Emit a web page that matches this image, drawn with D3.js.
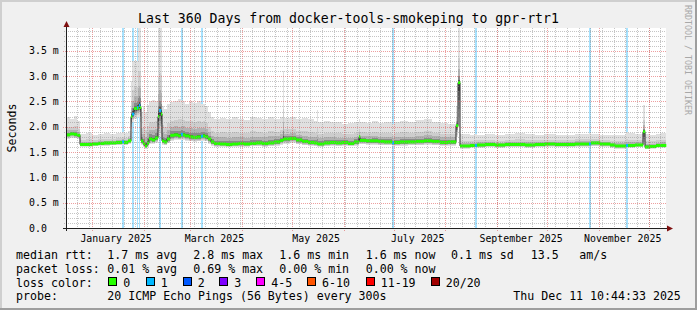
<!DOCTYPE html>
<html>
<head>
<meta charset="utf-8">
<script src="https://cdn.jsdelivr.net/npm/d3@7"></script>
<style>
  body { margin: 0; background: #f0f0f0; }
  svg { display: block; font-family: "DejaVu Sans Mono", monospace; }
  text { white-space: pre; }
</style>
</head>
<body>
<svg id="chart" width="697" height="310"></svg>
<script>
// ---- data ----
const startTime = new Date(Date.UTC(2024, 11, 16, 10, 44, 33));
const endTime = new Date(Date.UTC(2025, 11, 11, 10, 44, 33));
const spanDays = 360;

// start of each step, in days after startTime
const segDay = [
  0, 2.4, 4.8, 6.6, 8.4, 12, 15.6, 19.2, 22.8, 26.4,
  30, 33.6, 34.8, 37.2, 39, 39.6, 40.8, 42.6, 43.2, 43.8,
  44.4, 45, 46.2, 47.4, 48.6, 49.8, 51.6, 53.4, 55.2, 55.8,
  57.0, 57.6, 58.8, 60.6, 62.4, 64.8, 67.2, 69, 70.2, 71.4,
  73.8, 76.2, 78.6, 81, 82.2, 83.4, 85.2, 87, 88.8, 92.4,
  96, 99.6, 103.2, 106.8, 110.4, 114, 117.6, 121.2, 124.8, 128.4,
  130.2, 130.8, 134.4, 138, 141.6, 145.2, 148.8, 150.6, 151.2, 154.8,
  158.4, 162, 165.6, 169.2, 172.8, 175.8, 176.4, 180, 183.6, 187.2,
  190.8, 195.6, 196.8, 200.4, 205.2, 210, 214.8, 219.6, 224.4, 229.2,
  234, 235.2, 236.4, 242.4, 245.4, 246.6, 251.4, 257.4, 263.4, 269.4,
  275.4, 281.4, 287.4, 293.4, 299.4, 305.4, 313.8, 315, 320.4, 326.4,
  329.4, 336, 337.2, 341.4, 346.2, 347.4, 350.4, 354, 356.4
];
// median rtt (ms)
const medianMs = [
  1.84, 1.86, 1.85, 1.83, 1.65, 1.65, 1.66, 1.67, 1.68, 1.68,
  1.69, 1.70, 1.69, 1.72, 2.20, 2.25, 2.36, 2.38, 2.37, 2.42,
  2.38, 1.72, 1.67, 1.62, 1.68, 1.76, 1.74, 1.78, 2.20, 2.32,
  2.25, 1.72, 1.70, 1.76, 1.83, 1.84, 1.82, 1.85, 1.84, 1.82,
  1.80, 1.79, 1.80, 1.81, 1.82, 1.80, 1.76, 1.70, 1.67, 1.66,
  1.65, 1.66, 1.67, 1.66, 1.67, 1.68, 1.67, 1.68, 1.70, 1.73,
  1.75, 1.76, 1.77, 1.74, 1.71, 1.69, 1.68, 1.67, 1.66, 1.68,
  1.69, 1.68, 1.69, 1.67, 1.70, 1.80, 1.73, 1.72, 1.72, 1.71,
  1.70, 1.68, 1.69, 1.70, 1.70, 1.71, 1.72, 1.71, 1.69, 1.70,
  2.02, 2.87, 1.62, 1.63, 1.63, 1.64, 1.65, 1.64, 1.65, 1.65,
  1.64, 1.65, 1.66, 1.65, 1.65, 1.66, 1.66, 1.68, 1.66, 1.64,
  1.62, 1.63, 1.63, 1.64, 1.90, 1.60, 1.61, 1.63, 1.63
];
// highest ping of the step (ms)
const smokeHiMs = [
  2.20, 2.15, 2.22, 2.12, 1.86, 1.88, 1.84, 1.86, 1.87, 1.85,
  1.88, 1.90, 1.87, 1.92, 2.90, 3.30, 3.30, 3.30, 3.95, 3.95,
  3.95, 2.30, 2.40, 2.30, 2.43, 2.50, 2.53, 2.50, 3.95, 3.95,
  3.95, 2.40, 2.35, 2.45, 2.48, 2.50, 2.55, 2.52, 2.50, 2.45,
  2.50, 2.47, 2.50, 2.45, 2.45, 2.40, 2.30, 2.20, 2.15, 2.18,
  2.15, 2.20, 2.15, 2.13, 2.20, 2.18, 2.15, 2.20, 2.15, 2.20,
  3.10, 2.18, 2.20, 2.15, 2.17, 2.15, 2.12, 2.33, 2.10, 2.12,
  2.10, 2.10, 2.05, 2.08, 2.10, 2.15, 2.10, 2.08, 2.12, 2.08,
  2.10, 2.05, 2.10, 2.12, 2.10, 2.13, 2.15, 2.10, 2.08, 2.05,
  2.40, 3.95, 1.85, 1.84, 1.86, 1.84, 1.85, 1.83, 1.86, 1.88,
  1.85, 1.84, 1.85, 1.83, 1.84, 1.86, 1.88, 1.86, 1.84, 1.83,
  1.84, 1.90, 1.88, 1.86, 2.42, 1.85, 1.84, 1.86, 1.87
];
// lowest ping of the step (ms)
const smokeLoMs = [
  1.76, 1.78, 1.77, 1.76, 1.60, 1.60, 1.61, 1.62, 1.62, 1.63,
  1.63, 1.64, 1.63, 1.66, 1.95, 2.10, 2.15, 2.20, 2.20, 2.20,
  2.10, 1.64, 1.60, 1.57, 1.60, 1.66, 1.66, 1.68, 1.80, 1.80,
  1.75, 1.64, 1.63, 1.67, 1.72, 1.74, 1.73, 1.74, 1.74, 1.72,
  1.71, 1.70, 1.71, 1.72, 1.72, 1.71, 1.66, 1.62, 1.60, 1.60,
  1.59, 1.60, 1.60, 1.60, 1.61, 1.61, 1.60, 1.61, 1.62, 1.64,
  1.66, 1.66, 1.67, 1.65, 1.63, 1.62, 1.61, 1.60, 1.60, 1.61,
  1.62, 1.61, 1.62, 1.61, 1.62, 1.66, 1.65, 1.64, 1.64, 1.63,
  1.63, 1.62, 1.62, 1.62, 1.63, 1.63, 1.64, 1.63, 1.62, 1.62,
  1.80, 2.00, 1.57, 1.58, 1.58, 1.58, 1.59, 1.58, 1.59, 1.59,
  1.58, 1.59, 1.60, 1.59, 1.59, 1.60, 1.60, 1.61, 1.60, 1.58,
  1.57, 1.58, 1.58, 1.59, 1.65, 1.56, 1.57, 1.58, 1.58
];
// lost pings (of 20) in the step
const lostPings = [
  0, 0, 0, 0, 0, 0, 0, 0, 0, 0,
  0, 1, 0, 0, 0, 1, 0, 1, 0, 1,
  0, 0, 0, 0, 0, 0, 0, 0, 0, 1,
  0, 0, 0, 0, 0, 0, 0, 1, 0, 0,
  0, 0, 0, 1, 0, 0, 0, 0, 0, 0,
  0, 0, 0, 0, 0, 0, 0, 0, 0, 0,
  0, 0, 0, 0, 0, 0, 0, 0, 0, 0,
  0, 0, 0, 0, 0, 0, 0, 0, 0, 0,
  0, 1, 0, 0, 0, 0, 0, 0, 0, 0,
  0, 0, 0, 0, 1, 0, 0, 0, 0, 0,
  0, 0, 0, 0, 0, 0, 1, 0, 0, 0,
  0, 1, 0, 0, 0, 0, 0, 0, 0
];

const yTicks = [0, 0.5, 1.0, 1.5, 2.0, 2.5, 3.0, 3.5];
const yTickLabels = ["0.0", "0.5 m", "1.0 m", "1.5 m", "2.0 m", "2.5 m", "3.0 m", "3.5 m"];
const monthLabelDates = [
  new Date(Date.UTC(2025, 0, 1)), new Date(Date.UTC(2025, 2, 1)), new Date(Date.UTC(2025, 4, 1)),
  new Date(Date.UTC(2025, 6, 1)), new Date(Date.UTC(2025, 8, 1)), new Date(Date.UTC(2025, 10, 1))
];
const monthLabels = ["January 2025", "March 2025", "May 2025", "July 2025", "September 2025", "November 2025"];

const lossNames = ["0", "1", "2", "3", "4-5", "6-10", "11-19", "20/20"];
const lossColors = ["#26ff00", "#00b8ff", "#0059ff", "#7e00ff", "#ff00ff", "#ff5500", "#ff0000", "#a10000"];

const rttStats = ["1.7 ms avg", "2.8 ms max", "1.6 ms min", "1.6 ms now", "0.1 ms sd", "13.5", "am/s"];
const lossStats = ["0.01 % avg", "0.69 % max", "0.00 % min", "0.00 % now"];

// ---- layout ----
const W = 697, H = 310;
const x0 = 66, x1 = 666, yTop = 28, yBot = 228;
const svg = d3.select("#chart");

const x = d3.scaleUtc().domain([startTime, endTime]).range([x0, x1]);
const y = d3.scaleLinear().domain([0, 3.95]).range([yBot, yTop]);
const dayToDate = d => new Date(startTime.getTime() + d * 864e5);

const segs = segDay.map((d, i) => ({
  t0: dayToDate(d),
  t1: dayToDate(i + 1 < segDay.length ? segDay[i + 1] : spanDays),
  med: medianMs[i], hi: smokeHiMs[i], lo: smokeLoMs[i], loss: lostPings[i]
}));

// background + 3d frame
svg.append("rect").attr("width", W).attr("height", H).attr("fill", "#f0f0f0");
svg.append("rect").attr("x", 0).attr("y", 0).attr("width", W).attr("height", 2).attr("fill", "#cfcfcf");
svg.append("rect").attr("x", 0).attr("y", 0).attr("width", 2).attr("height", H).attr("fill", "#cfcfcf");
svg.append("rect").attr("x", 0).attr("y", H - 2).attr("width", W).attr("height", 2).attr("fill", "#9e9e9e");
svg.append("rect").attr("x", W - 2).attr("y", 0).attr("width", 2).attr("height", H).attr("fill", "#9e9e9e");

// canvas
svg.append("rect").attr("x", x0).attr("y", yTop).attr("width", x1 - x0).attr("height", yBot - yTop).attr("fill", "#fff");

const plot = svg.append("g");

// loss background
plot.selectAll("rect.lossbg")
  .data(segs.filter(s => s.loss > 0))
  .enter().append("rect")
  .attr("class", "lossbg")
  .attr("x", s => x(s.t0))
  .attr("width", s => Math.max(1, x(s.t1) - x(s.t0)))
  .attr("y", yTop).attr("height", yBot - yTop)
  .attr("fill", "#a6e2ff");

// smoke, lightest outside, darker toward the median
const upFrac = [1, 0.45, 0.25, 0.12, 0.05];
const lowFrac = [1, 0.8, 0.6, 0.4, 0.2];
const smokeCol = ["#e0e0e0", "#cdcdcd", "#b2b2b2", "#8a8a8a", "#555555"];
upFrac.forEach((f, k) => {
  plot.append("g").selectAll("rect")
    .data(segs)
    .enter().append("rect")
    .attr("x", s => x(s.t0))
    .attr("width", s => x(s.t1) - x(s.t0) + 0.3)
    .attr("y", s => y(s.med + (s.hi - s.med) * f))
    .attr("height", s => y(s.med - (s.med - s.lo) * lowFrac[k]) - y(s.med + (s.hi - s.med) * f))
    .attr("fill", smokeCol[k])
    .attr("shape-rendering", "crispEdges");
});

// median line
const stepPts = segs.map(s => [x(s.t0), y(s.med)]);
stepPts.push([x1, y(segs[segs.length - 1].med)]);
plot.append("path")
  .attr("d", d3.line().curve(d3.curveStepAfter)(stepPts))
  .attr("fill", "none").attr("stroke", "#202020").attr("stroke-width", 1);

plot.append("g").selectAll("rect")
  .data(segs)
  .enter().append("rect")
  .attr("x", s => x(s.t0))
  .attr("width", s => x(s.t1) - x(s.t0) + 0.3)
  .attr("y", s => y(s.med) - 1.5)
  .attr("height", 3)
  .attr("fill", s => lossColors[s.loss]);

// grid on top
const grid = svg.append("g");
const minorV = d3.utcMonday.range(startTime, endTime);
const majorV = d3.utcMonth.range(startTime, endTime);
const minorH = d3.range(1, 40).map(i => i / 10).filter(v => Math.round(v * 10) % 5 !== 0);
const majorH = yTicks.filter(v => v > 0);

grid.selectAll("line.mv").data(minorV).enter().append("line")
  .attr("x1", d => Math.round(x(d)) + 0.5).attr("x2", d => Math.round(x(d)) + 0.5)
  .attr("y1", yTop).attr("y2", yBot + 2)
  .attr("stroke", "rgba(140,140,140,0.5)").attr("stroke-dasharray", "1,1");
grid.selectAll("line.mh").data(minorH).enter().append("line")
  .attr("x1", x0 - 2).attr("x2", x1)
  .attr("y1", d => Math.round(y(d)) + 0.5).attr("y2", d => Math.round(y(d)) + 0.5)
  .attr("stroke", "rgba(140,140,140,0.5)").attr("stroke-dasharray", "1,1");
grid.selectAll("line.Mv").data(majorV).enter().append("line")
  .attr("x1", d => Math.round(x(d)) + 0.5).attr("x2", d => Math.round(x(d)) + 0.5)
  .attr("y1", yTop).attr("y2", yBot + 3)
  .attr("stroke", "rgba(222,80,80,0.55)").attr("stroke-dasharray", "1,1");
grid.selectAll("line.Mh").data(majorH).enter().append("line")
  .attr("x1", x0 - 3).attr("x2", x1)
  .attr("y1", d => Math.round(y(d)) + 0.5).attr("y2", d => Math.round(y(d)) + 0.5)
  .attr("stroke", "rgba(222,80,80,0.55)").attr("stroke-dasharray", "1,1");

// axes
svg.append("line").attr("x1", x0 + 0.5).attr("x2", x0 + 0.5).attr("y1", yBot + 3).attr("y2", 23)
  .attr("stroke", "#202020");
svg.append("line").attr("x1", x0 - 3).attr("x2", x1 + 3).attr("y1", yBot + 0.5).attr("y2", yBot + 0.5)
  .attr("stroke", "#202020");
svg.append("path").attr("d", `M${x0 - 2.5},${yTop - 1}L${x0 + 3.5},${yTop - 1}L${x0 + 0.5},${yTop - 7}Z`)
  .attr("fill", "#7f1010");
svg.append("path").attr("d", `M${x1 + 1},${yBot - 2.5}L${x1 + 1},${yBot + 3.5}L${x1 + 7},${yBot + 0.5}Z`)
  .attr("fill", "#7f1010");

// y labels
svg.selectAll("text.yl").data(yTicks).enter().append("text")
  .attr("x", 29).attr("y", d => y(d) + 3.6)
  .attr("font-size", 9.9)
  .text((d, i) => yTickLabels[i]);

// x labels
svg.selectAll("text.xl").data(monthLabelDates).enter().append("text")
  .attr("x", d => x(d3.utcHour.offset(d, 348)))
  .attr("y", 241.5)
  .attr("text-anchor", "middle")
  .attr("font-size", 9.9)
  .text((d, i) => monthLabels[i]);

// title + side texts
svg.append("text").attr("x", 348.5).attr("y", 23).attr("text-anchor", "middle")
  .attr("font-size", 13.2).text("Last 360 Days from docker-tools-smokeping to gpr-rtr1");
svg.append("text").attr("transform", "translate(15.5,128) rotate(-90)").attr("text-anchor", "middle")
  .attr("font-size", 11.6).text("Seconds");
svg.append("text").attr("transform", "translate(685,5) rotate(90)")
  .attr("font-size", 8.3).attr("fill", "#a8a8a8").text("RRDTOOL / TOBI OETIKER");

// legend
const legend = svg.append("g").attr("font-size", 11.6);
const statX = [107.3, 193.3, 279.3, 365.7, 451, 530.7, 579.3];
legend.append("text").attr("x", 16).attr("y", 258.5).text("median rtt:");
rttStats.forEach((t, i) => legend.append("text").attr("x", statX[i]).attr("y", 258.5).text(t));
legend.append("text").attr("x", 16).attr("y", 272.5).text("packet loss:");
lossStats.forEach((t, i) => legend.append("text").attr("x", statX[i]).attr("y", 272.5).text(t));
legend.append("text").attr("x", 16).attr("y", 286.5).text("loss color:");
const swatchX = [108.3, 145.7, 182.7, 219.3, 256.3, 307, 365.7, 430.7];
lossNames.forEach((n, i) => {
  legend.append("rect").attr("x", Math.round(swatchX[i]) + 0.5).attr("y", 277.5)
    .attr("width", 8).attr("height", 8).attr("fill", lossColors[i]).attr("stroke", "#000");
  legend.append("text").attr("x", swatchX[i] + 15).attr("y", 286.5).text(n);
});
legend.append("text").attr("x", 16).attr("y", 300.3).text("probe:");
legend.append("text").attr("x", 107.3).attr("y", 300.3).text("20 ICMP Echo Pings (56 Bytes) every 300s");
legend.append("text").attr("x", 513.3).attr("y", 300.3).text("Thu Dec 11 10:44:33 2025");
</script>
</body>
</html>
